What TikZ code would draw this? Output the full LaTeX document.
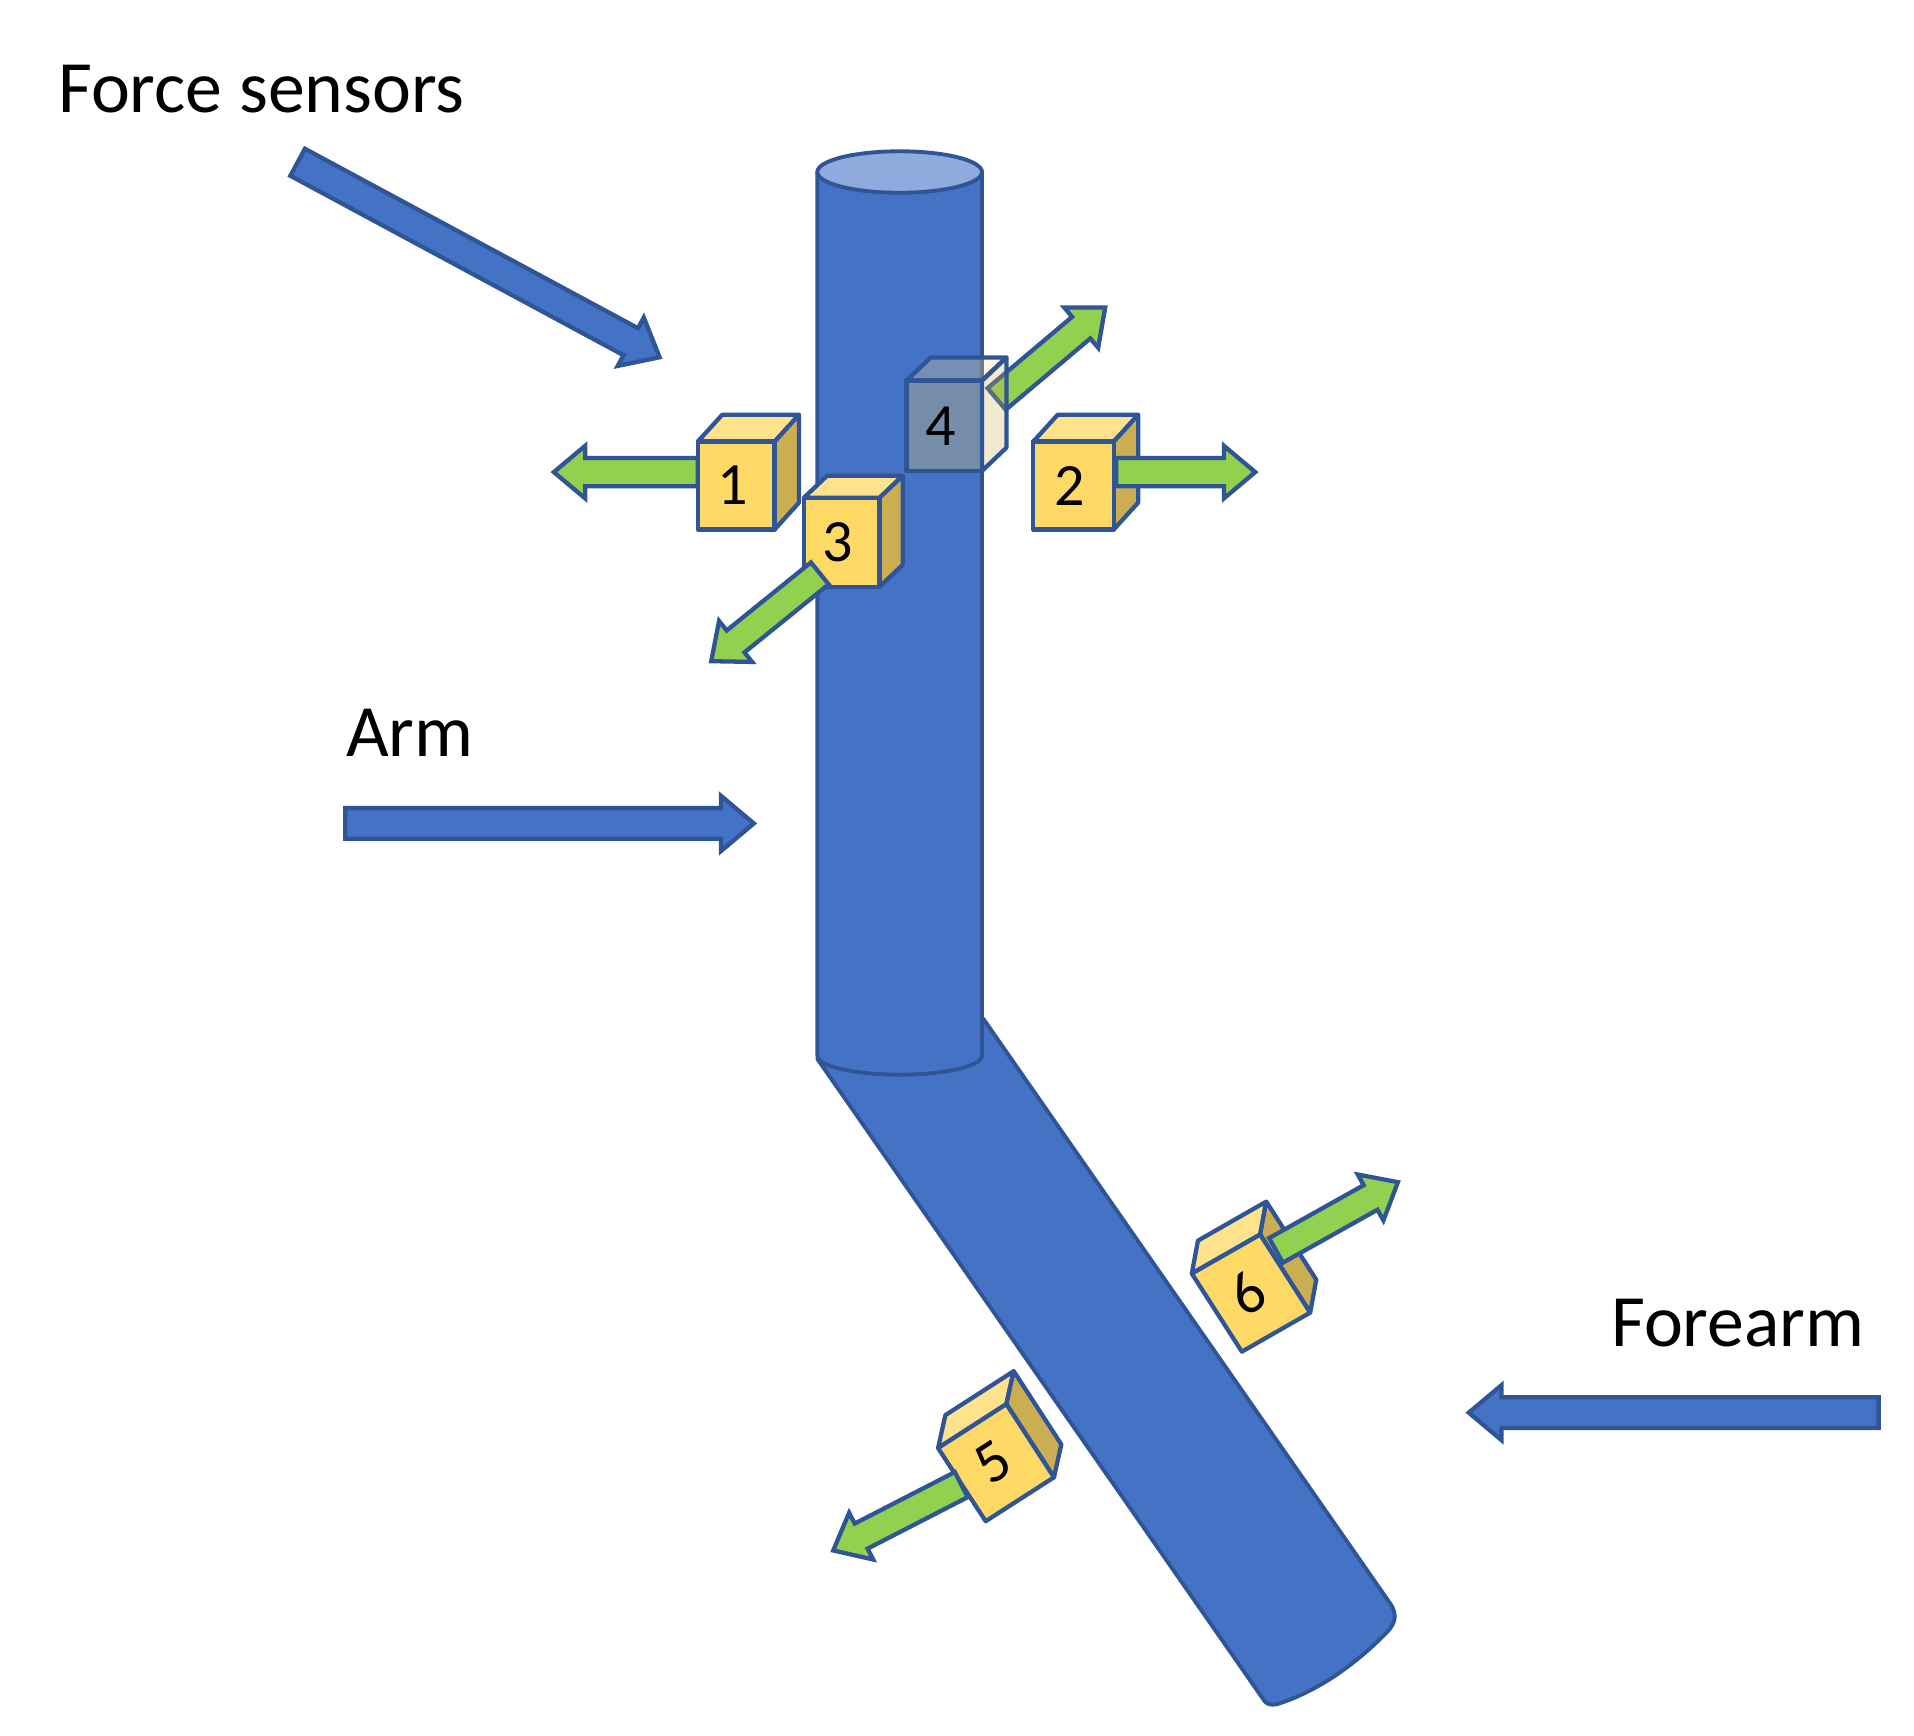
\documentclass[tikz,border=0pt]{standalone}
\usepackage{fontspec}
\setmainfont{Carlito}
\usetikzlibrary{shapes.arrows,calc}

\definecolor{tubeblue}{HTML}{4472C4}
\definecolor{tubeline}{HTML}{2F5597}
\definecolor{tubetop}{HTML}{8FAADC}
\definecolor{boxfront}{HTML}{FFD966}
\definecolor{boxtop}{HTML}{FFE28C}
\definecolor{boxside}{HTML}{CCAE52}
\definecolor{pushgreen}{HTML}{92D050}

\begin{document}
\begin{tikzpicture}[
        x=0.01cm, y=-0.01cm,
        tube/.style={draw=tubeline, fill=tubeblue, line width=0.9pt, line join=round},
        box face/.style={draw=tubeline, line width=1pt, line join=round},
        label text/.style={font=\fontsize{17.2}{20}\selectfont, anchor=base west, inner sep=0pt},
        number/.style={font=\fontsize{14}{16}\selectfont, inner sep=0pt, xshift=-0.03cm},
        block arrow/.style={single arrow, single arrow head extend=0.10cm, single arrow tip angle=80,
                inner xsep=0pt, outer sep=0pt, anchor=tail, draw=tubeline, line width=1pt},
        blue arrow/.style={block arrow, inner ysep=0.108cm, fill=tubeblue},
        green arrow/.style={block arrow, inner ysep=0.098cm, fill=pushgreen},
    ]
    \useasboundingbox (0, 0) rectangle (1569, 1423);

    % tail, tip: the arrow is a node turned along the line between them
    \newcommand*{\BlockArrow}[4]{
        \coordinate (#1 tail) at #3;
        \coordinate (#1 tip) at #4;
        \path let \p1 = ($(#1 tip) - (#1 tail)$),
        \n1 = {atan2(\y1, \x1)}, \n2 = {veclen(\x1, \y1)} in
        node[#2, rotate=\n1, minimum height=\n2] (#1) at (#1 tail) {};
    }

    % Forearm first, the arm lies over its upper end
    \draw[tube] (806, 835) -- (1140, 1315)
    .. controls (1147, 1326) and (1142, 1333) .. (1135, 1340)
    .. controls (1105, 1370) and (1075, 1388) .. (1047, 1397)
    .. controls (1042, 1398) and (1039, 1397) .. (1037, 1395)
    -- (670, 868) -- cycle;

    \draw[tube] (670, 141) -- (670, 865)
    .. controls (670, 875) and (705, 881) .. (737.5, 881)
    .. controls (770, 881) and (805, 875) .. (805, 865)
    -- (805, 141) -- cycle;
    \draw[tube, fill=tubetop] (737.5, 141) ellipse [x radius=67.5, y radius=17];

    % Seen through the side of box 4
    \BlockArrow{push4}{green arrow}{(817, 327)}{(906, 252)}

    % number/angle/front corner/top edge/left edge/depth/opacity
    \foreach \Num/\Rot/\Ax/\Ay/\Ux/\Uy/\Vx/\Vy/\Dx/\Dy/\Fade in {
            1/0/572/362/63/0/0/72/20/-22/1,
            2/0/847/362/66/0/0/72/20/-22/1,
            3/0/659/408/62/0/0/73/19/-18/1,
            4/0/743/312/62/0/0/74/20/-19/0.27,
            5/33/769/1187/56/-36/39/60/6/-27/1,
            6/33/977/1044/56/-32/41/64/5/-27/1
        } {
            \coordinate (a\Num) at (\Ax, \Ay);
            \draw[box face, fill=boxtop, fill opacity=\Fade]
            (a\Num) -- ++(\Dx, \Dy) -- ++(\Ux, \Uy) -- ++(-\Dx, -\Dy) -- cycle;
            \draw[box face, fill=boxside, fill opacity=\Fade]
            (a\Num) ++(\Ux, \Uy) -- ++(\Dx, \Dy) -- ++(\Vx, \Vy) -- ++(-\Dx, -\Dy) -- cycle;
            \draw[box face, fill=boxfront, fill opacity=\Fade]
            (a\Num) -- ++(\Ux, \Uy) -- ++(\Vx, \Vy) -- ++(-\Ux, -\Uy) -- cycle;
            \node[number, rotate=\Rot] (box\Num) at ($(a\Num) + 0.5*(\Ux, \Uy) + 0.5*(\Vx, \Vy)$) {\Num};
        }

    % The other force arrows
    \BlockArrow{push1}{green arrow}{(572, 387)}{(454, 387)}
    \BlockArrow{push2}{green arrow}{(915, 387)}{(1029, 387)}
    \BlockArrow{push3}{green arrow}{(672, 470)}{(583, 542)}
    \BlockArrow{push5}{green arrow}{(788, 1217)}{(683, 1271)}
    \BlockArrow{push6}{green arrow}{(1046, 1025)}{(1146, 969)}

    % Labels and their pointers
    \node[label text] (sensors) at (47, 92) {Force sensors};
    \node[label text] (arm) at (283, 620) {Arm};
    \node[label text] (forearm) at (1320, 1104) {Forearm};

    \BlockArrow{sensorsarrow}{blue arrow}{(244, 133)}{(541, 293)}
    \BlockArrow{armarrow}{blue arrow}{(283, 675)}{(618, 675)}
    \BlockArrow{forearmarrow}{blue arrow}{(1540, 1158)}{(1204, 1158)}
\end{tikzpicture}
\end{document}
